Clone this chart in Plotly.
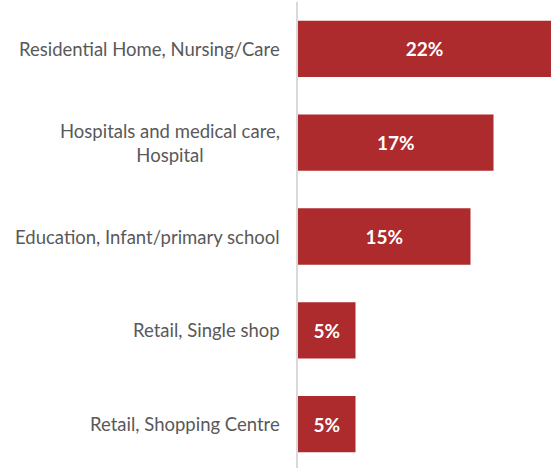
import plotly.graph_objects as go

categories = [
    "Residential Home, Nursing/Care",
    "Hospitals and medical care,<br>Hospital",
    "Education, Infant/primary school",
    "Retail, Single shop",
    "Retail, Shopping Centre",
]
values = [22, 17, 15, 5, 5]
value_labels = ["22%", "17%", "15%", "5%", "5%"]

bar_color = "#AD2A2D"
label_color = "#595959"
font_family = "Lato, 'Open Sans', sans-serif"

positions = list(range(len(categories)))

fig = go.Figure(
    go.Bar(
        x=values,
        y=positions,
        orientation="h",
        width=0.6,
        marker=dict(color=bar_color, line=dict(width=0)),
        text=value_labels,
        textposition="inside",
        insidetextanchor="middle",
        textangle=0,
        textfont=dict(family=font_family, size=19, color="white", weight="bold"),
        hoverinfo="skip",
    )
)

# Category labels, centred line-by-line and right-aligned next to the axis
for pos, name in zip(positions, categories):
    fig.add_annotation(
        x=0, xref="paper", y=pos, yref="y",
        text=name, showarrow=False,
        xanchor="right", yanchor="middle", align="center",
        xshift=-16,
        font=dict(family=font_family, size=18.5, color=label_color),
    )

fig.update_layout(
    width=552, height=468,
    margin=dict(l=298, r=0, t=2, b=0),
    paper_bgcolor="white", plot_bgcolor="white",
    showlegend=False,
    uniformtext=dict(mode=False),
)
fig.update_xaxes(
    range=[0, 254 / 11.5], visible=False, showgrid=False, zeroline=False,
)
fig.update_yaxes(
    range=[4.469, -0.501], showgrid=False, zeroline=False,
    showticklabels=False, ticks="",
    showline=True, linecolor="#D9D9D9", linewidth=2,
)

fig.write_html("out.html")
